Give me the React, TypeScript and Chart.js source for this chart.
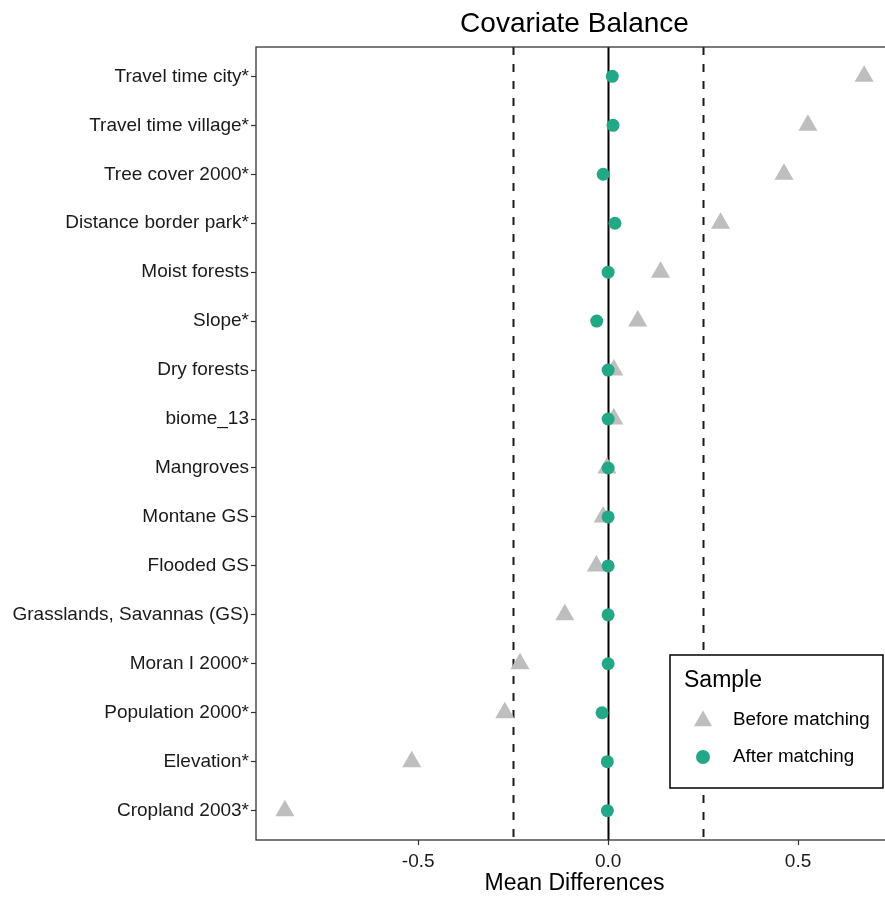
import React, { useEffect, useRef } from 'react';
import { Chart, registerables } from 'chart.js';

Chart.register(...registerables);

const categories = [
  'Travel time city*',
  'Travel time village*',
  'Tree cover 2000*',
  'Distance border park*',
  'Moist forests',
  'Slope*',
  'Dry forests',
  'biome_13',
  'Mangroves',
  'Montane GS',
  'Flooded GS',
  'Grasslands, Savannas (GS)',
  'Moran I 2000*',
  'Population 2000*',
  'Elevation*',
  'Cropland 2003*',
];
const beforeMatching = [0.674, 0.526, 0.463, 0.296, 0.138, 0.078, 0.015, 0.015, -0.003, -0.013, -0.031, -0.114, -0.232, -0.272, -0.517, -0.851];
const afterMatching = [0.011, 0.013, -0.013, 0.018, 0.0, -0.03, 0.0, 0.0, 0.0, 0.0, 0.0, 0.0, 0.0, -0.016, -0.002, -0.002];
const xTicks = [-0.5, 0, 0.5];
const thresholdLines = [-0.25, 0.25];
const zeroLine = 0;
const seriesNames = ['Before matching', 'After matching'];
const legendTitle = 'Sample';
const chartTitle = 'Covariate Balance';
const xAxisTitle = 'Mean Differences';

const FONT = '"Liberation Sans", Arial, Helvetica, sans-serif';
const GREY = '#bebebe';
const GREEN = '#22a884';

function drawTriangle(ctx: CanvasRenderingContext2D, x: number, y: number, r: number) {
  ctx.beginPath();
  let rad = 0;
  ctx.moveTo(x + Math.sin(rad) * r, y - Math.cos(rad) * r);
  rad += (2 * Math.PI) / 3;
  ctx.lineTo(x + Math.sin(rad) * r, y - Math.cos(rad) * r);
  rad += (2 * Math.PI) / 3;
  ctx.lineTo(x + Math.sin(rad) * r, y - Math.cos(rad) * r);
  ctx.closePath();
  ctx.fill();
}

const decorPlugin = {
  id: 'decor',
  beforeDraw(chart: any) {
    const ctx = chart.ctx as CanvasRenderingContext2D;
    ctx.save();
    ctx.fillStyle = '#ffffff';
    ctx.fillRect(0, 0, chart.width, chart.height);
    ctx.restore();
  },
  beforeDatasetsDraw(chart: any) {
    const ctx = chart.ctx as CanvasRenderingContext2D;
    const { top, bottom, left, right } = chart.chartArea;
    const xs = chart.scales.x;
    ctx.save();
    ctx.beginPath();
    ctx.rect(left, top, right - left, bottom - top);
    ctx.clip();
    ctx.strokeStyle = '#1a1a1a';
    ctx.lineWidth = 2;
    ctx.setLineDash([8, 9]);
    thresholdLines.forEach((v) => {
      const px = Math.round(xs.getPixelForValue(v)) + 0.5;
      ctx.beginPath();
      ctx.moveTo(px, top);
      ctx.lineTo(px, bottom);
      ctx.stroke();
    });
    ctx.setLineDash([]);
    ctx.strokeStyle = '#000000';
    ctx.lineWidth = 2;
    const zx = Math.round(xs.getPixelForValue(zeroLine)) + 0.5;
    ctx.beginPath();
    ctx.moveTo(zx, top);
    ctx.lineTo(zx, bottom);
    ctx.stroke();
    ctx.restore();
  },
  afterDraw(chart: any) {
    const ctx = chart.ctx as CanvasRenderingContext2D;
    const { top, bottom, left, right } = chart.chartArea;
    ctx.save();
    // panel border
    ctx.strokeStyle = '#333333';
    ctx.lineWidth = 1.3;
    ctx.strokeRect(left, top, right - left, bottom - top);

    // title
    ctx.fillStyle = '#000000';
    ctx.font = `28px ${FONT}`;
    ctx.textAlign = 'center';
    ctx.textBaseline = 'alphabetic';
    ctx.fillText(chartTitle, (left + right) / 2, 32);

    // legend
    const bw = 213;
    const bh = 133;
    const bx = right - 10 - bw;
    const by = bottom - 52 - bh;
    ctx.fillStyle = '#ffffff';
    ctx.fillRect(bx, by, bw, bh);
    ctx.strokeStyle = '#000000';
    ctx.lineWidth = 1.5;
    ctx.strokeRect(bx, by, bw, bh);

    ctx.fillStyle = '#000000';
    ctx.textAlign = 'left';
    ctx.textBaseline = 'alphabetic';
    ctx.font = `23px ${FONT}`;
    ctx.fillText(legendTitle, bx + 14, by + 32);

    ctx.font = `18.8px ${FONT}`;
    ctx.textBaseline = 'middle';
    const y1 = by + 65;
    const y2 = by + 102;
    ctx.fillStyle = GREY;
    drawTriangle(ctx, bx + 33, y1 + 1, 10.5);
    ctx.fillStyle = GREEN;
    ctx.beginPath();
    ctx.arc(bx + 33, y2, 7, 0, Math.PI * 2);
    ctx.fill();
    ctx.fillStyle = '#000000';
    ctx.fillText(seriesNames[0], bx + 63, y1);
    ctx.fillText(seriesNames[1], bx + 63, y2);
    ctx.restore();
  },
};

export default function App() {
  const canvasRef = useRef<HTMLCanvasElement | null>(null);

  useEffect(() => {
    const canvas = canvasRef.current;
    if (!canvas) return;
    const chart = new Chart(canvas, {
      type: 'scatter',
      data: {
        datasets: [
          {
            label: seriesNames[1],
            data: categories.map((_, i) => ({ x: afterMatching[i], y: i })),
            pointStyle: 'circle',
            pointRadius: 6.5,
            pointHoverRadius: 6.5,
            backgroundColor: GREEN,
            borderColor: GREEN,
            borderWidth: 0,
            order: 0,
          },
          {
            label: seriesNames[0],
            data: categories.map((_, i) => ({ x: beforeMatching[i], y: i })),
            pointStyle: 'triangle',
            pointRadius: 11,
            pointHoverRadius: 11,
            backgroundColor: GREY,
            borderColor: GREY,
            borderWidth: 0,
            order: 1,
          },
        ],
      },
      options: {
        animation: false,
        responsive: false,
        devicePixelRatio: 1,
        events: [],
        layout: { padding: { top: 47, right: 0, bottom: 0, left: 0 } },
        plugins: {
          legend: { display: false },
          tooltip: { enabled: false },
          title: { display: false },
        },
        scales: {
          x: {
            type: 'linear',
            position: 'bottom',
            min: -0.927,
            max: 0.75,
            afterBuildTicks: (scale: any) => {
              scale.ticks = xTicks.map((v) => ({ value: v }));
            },
            afterFit: (scale: any) => {
              scale.height = 57;
              scale.paddingLeft = 0;
              scale.paddingRight = 0;
            },
            border: { display: false },
            grid: {
              drawOnChartArea: false,
              drawTicks: true,
              tickLength: 5,
              tickColor: '#333333',
              tickWidth: 1.2,
            },
            ticks: {
              padding: 5,
              color: '#1a1a1a',
              font: { family: FONT, size: 19 },
              maxRotation: 0,
              autoSkip: false,
              callback: (v: any) => Number(v).toFixed(1),
            },
            title: {
              display: true,
              text: xAxisTitle,
              color: '#000000',
              font: { family: FONT, size: 23 },
              padding: { top: 0, bottom: 0 },
            },
          },
          y: {
            type: 'linear',
            position: 'left',
            min: -0.6,
            max: 15.6,
            reverse: true,
            afterBuildTicks: (scale: any) => {
              scale.ticks = categories.map((_, i) => ({ value: i }));
            },
            afterFit: (scale: any) => {
              scale.width = 256;
              scale.paddingTop = 0;
              scale.paddingBottom = 0;
            },
            border: { display: false },
            grid: {
              drawOnChartArea: false,
              drawTicks: true,
              tickLength: 5,
              tickColor: '#333333',
              tickWidth: 1.2,
            },
            ticks: {
              padding: 2,
              color: '#1a1a1a',
              font: { family: FONT, size: 19 },
              autoSkip: false,
              callback: (v: any) => categories[Math.round(Number(v))] ?? '',
            },
          },
        },
      },
      plugins: [decorPlugin],
    });
    return () => {
      chart.destroy();
    };
  }, []);

  return (
    <div
      style={{
        position: 'absolute',
        left: 0,
        top: 0,
        width: 885,
        height: 897,
        overflow: 'hidden',
        background: '#ffffff',
      }}
    >
      <canvas ref={canvasRef} width={904} height={897} style={{ width: 904, height: 897, display: 'block' }} />
    </div>
  );
}
